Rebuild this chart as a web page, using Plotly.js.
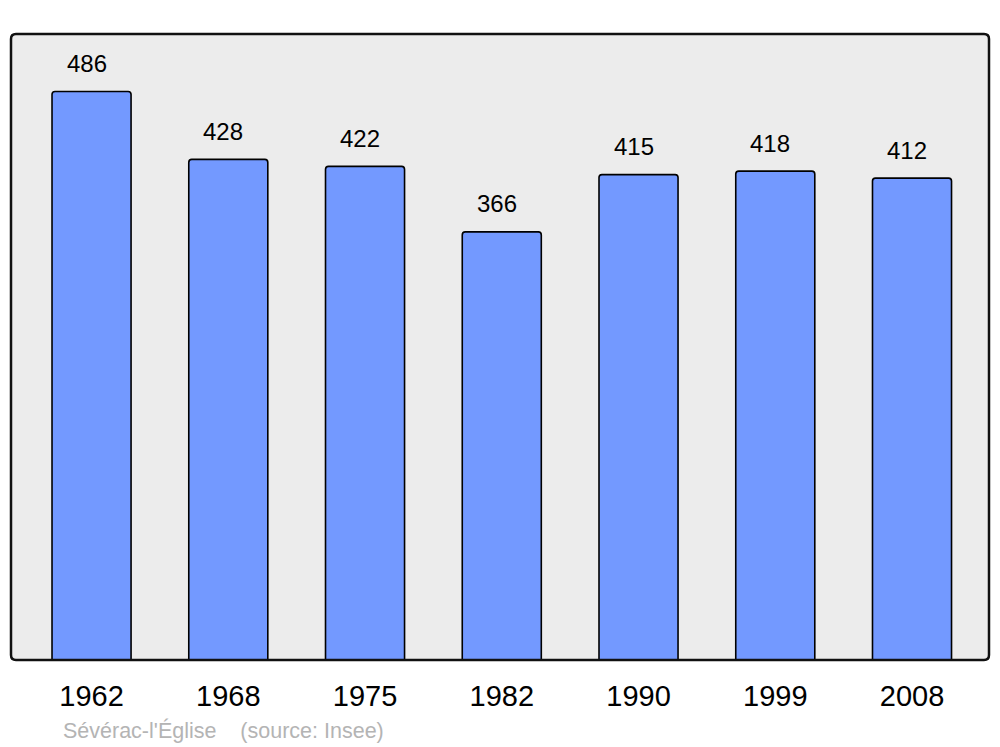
<!DOCTYPE html>
<html>
<head>
<meta charset="utf-8">
<script src="https://cdn.plot.ly/plotly-3.0.1.min.js"></script>
<style>html,body{margin:0;padding:0;background:#fff;}#chart{width:1000px;height:747px;}</style>
</head>
<body>
<div id="chart"></div>
<script>
const years = ['1962','1968','1975','1982','1990','1999','2008'];
const population = [486, 428, 422, 366, 415, 418, 412];
const sourceText = "Sévérac-l'Église    (source: Insee)";

const W = 978, H = 626, r = 5;
const rx = r / W, ry = r / H;
const framePath = `M ${rx},0 L ${1-rx},0 Q 1,0 1,${ry} L 1,${1-ry} Q 1,1 ${1-rx},1 L ${rx},1 Q 0,1 0,${1-ry} L 0,${ry} Q 0,0 ${rx},0 Z`;

const annotations = years.map((y, i) => ({
  x: i, y: population[i], xref: 'x', yref: 'y',
  text: String(population[i]), showarrow: false,
  xanchor: 'center', yanchor: 'middle', yshift: 28, xshift: -5,
  font: {family: 'Liberation Sans, Arial, sans-serif', size: 24, color: '#000'}
}));
annotations.push({
  x: (61 - 11) / W, y: (660 - 730) / H, xref: 'paper', yref: 'paper', showarrow: false,
  xanchor: 'left', yanchor: 'middle',
  text: sourceText, font: {family: 'Liberation Sans, Arial, sans-serif', size: 21.5, color: '#b4b4b4'}
});

const data = [{
  type: 'bar', x: years, y: population, width: 0.578,
  marker: {color: '#7399ff', line: {color: '#000', width: 1.6}, cornerradius: 3},
  hoverinfo: 'none'
}];

const layout = {
  width: 1000, height: 747,
  margin: {l: 11, r: 11, t: 34, b: 87, pad: 0},
  paper_bgcolor: '#ffffff', plot_bgcolor: '#ececec',
  showlegend: false,
  xaxis: {type: 'category', range: [-0.589, 6.563], showgrid: false, zeroline: false, showline: false,
    ticks: '', ticklabelstandoff: 16, tickfont: {family: 'Liberation Sans, Arial, sans-serif', size: 29, color: '#000'}, fixedrange: true},
  yaxis: {range: [0, 535.2], showgrid: false, zeroline: false, showline: false, showticklabels: false, ticks: '', fixedrange: true},
  shapes: [{type: 'path', xref: 'paper', yref: 'paper', path: framePath, line: {color: '#111', width: 2.5}, fillcolor: 'rgba(0,0,0,0)', layer: 'above'}],
  annotations: annotations
};
Plotly.newPlot('chart', data, layout, {staticPlot: true, displayModeBar: false});
</script>
</body>
</html>
